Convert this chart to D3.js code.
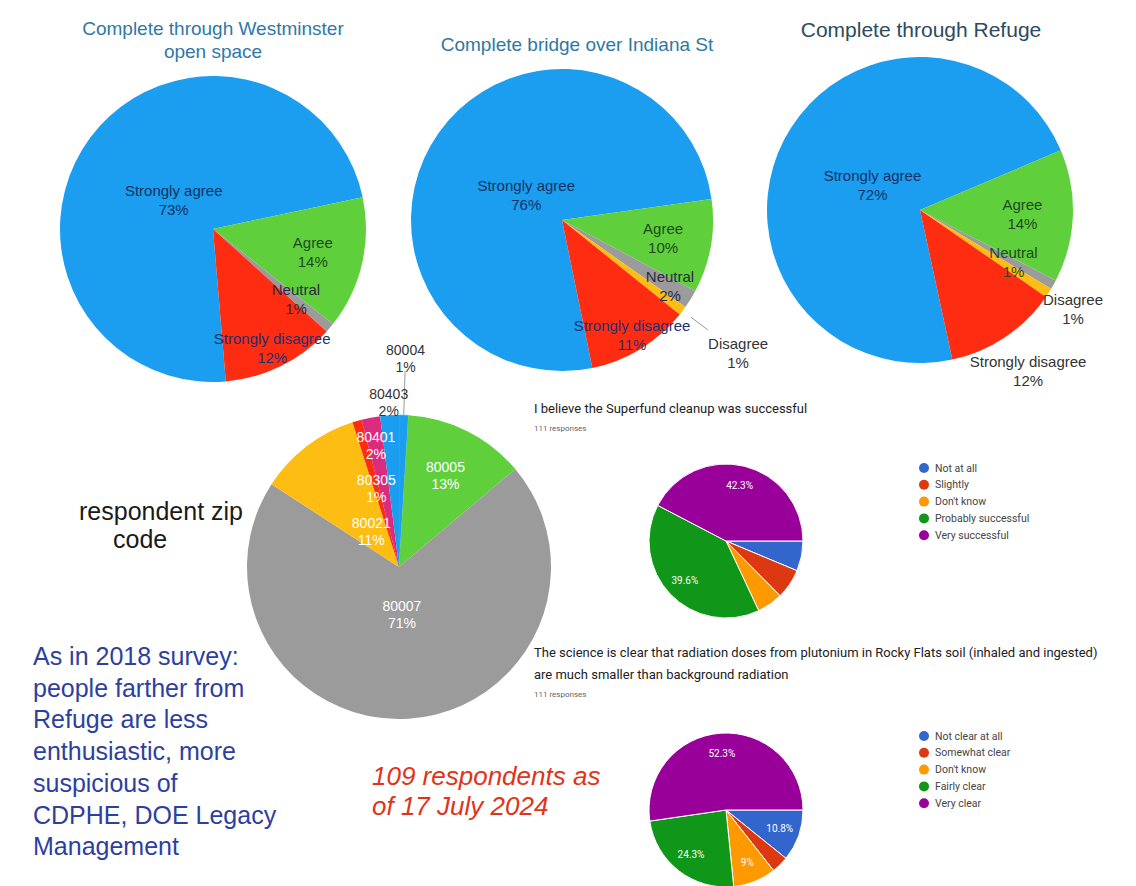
<!DOCTYPE html>
<html><head><meta charset="utf-8">
<script src="https://cdn.jsdelivr.net/npm/d3@7"></script>
<style>body{margin:0;background:#fff}svg{display:block}</style>
</head><body><svg id="c" width="1136" height="886"></svg>
<script>
// ---------- DATA ----------
const agreeCategories = ["Strongly agree", "Agree", "Neutral", "Disagree", "Strongly disagree"];
const westminsterValues = [73, 14, 1, 0, 12];
const indianaValues = [76, 10, 2, 1, 11];
const refugeValues = [72, 14, 1, 1, 12];
const pieTitles = [["Complete through Westminster", "open space"], ["Complete bridge over Indiana St"], ["Complete through Refuge"]];

const zipCodes = ["80004", "80005", "80007", "80021", "80305", "80401", "80403"];
const zipValues = [1, 13, 71, 11, 1, 2, 2];

const superfundTitle = ["I believe the Superfund cleanup was successful"];
const superfundCategories = ["Not at all", "Slightly", "Don't know", "Probably successful", "Very successful"];
const superfundValues = [6.3, 6.3, 5.4, 39.6, 42.3];

const scienceTitle = ["The science is clear that radiation doses from plutonium in Rocky Flats soil (inhaled and ingested)", "are much smaller than background radiation"];
const scienceCategories = ["Not clear at all", "Somewhat clear", "Don't know", "Fairly clear", "Very clear"];
const scienceValues = [10.8, 3.6, 9, 24.3, 52.3];
const responsesText = "111 responses";

const notesText = ["As in 2018 survey:", "people farther from", "Refuge are less", "enthusiastic, more", "suspicious of", "CDPHE, DOE Legacy", "Management"];
const respondentsText = ["109 respondents as", "of 17 July 2024"];
const zipCaption = ["respondent zip", "code"];

// ---------- DRAW ----------
const svg = d3.select("#c");
const keyFont = "'Liberation Sans', Arial, Helvetica, sans-serif";
const gFont = "Roboto, 'Liberation Sans', Arial, sans-serif";
const agreeColor = d3.scaleOrdinal().domain(agreeCategories)
  .range(["#1b9df0", "#5fd03b", "#9b9b9b", "#fdbd12", "#fe2c10"]);

function keynotePie(cfg) {
  const g = svg.append("g").attr("transform", `translate(${cfg.cx},${cfg.cy})`);
  const items = cfg.values.map((v, i) => ({cat: agreeCategories[i], v}));
  const total = d3.sum(cfg.values);
  const rot = cfg.agreeStart * Math.PI / 180 - cfg.values[0] / total * 2 * Math.PI;
  const arcs = d3.pie().sort(null).value(d => d.v).startAngle(rot).endAngle(rot + 2 * Math.PI)(items);
  const arc = d3.arc().innerRadius(0).outerRadius(cfg.r);
  g.selectAll("path").data(arcs.filter(a => a.data.v > 0)).join("path")
    .attr("d", arc).attr("fill", d => agreeColor(d.data.cat));
  const t = svg.append("text").attr("x", cfg.tx).attr("text-anchor", "middle")
    .attr("font-family", keyFont).attr("font-size", cfg.tsize).attr("fill", cfg.tcolor);
  cfg.title.forEach((line, i) => t.append("tspan").attr("x", cfg.tx).attr("y", cfg.ty + i * 23).text(line));
  arcs.forEach(a => {
    const L = cfg.leader && cfg.leader[a.data.cat];
    if (!L || a.data.v <= 0) return;
    const m = (a.startAngle + a.endAngle) / 2;
    g.append("line")
      .attr("x1", L[0] * cfg.r * Math.sin(m)).attr("y1", -L[0] * cfg.r * Math.cos(m))
      .attr("x2", L[1] * cfg.r * Math.sin(m)).attr("y2", -L[1] * cfg.r * Math.cos(m))
      .attr("stroke", "#9a9a9a").attr("stroke-width", 1);
  });
  arcs.forEach(a => {
    if (a.data.v <= 0) return;
    const m = (a.startAngle + a.endAngle) / 2;
    const rr = cfg.labelR[a.data.cat] * cfg.r;
    const x = rr * Math.sin(m), y = -rr * Math.cos(m);
    const lt = g.append("text").attr("text-anchor", "middle").attr("font-family", keyFont)
      .attr("font-size", 15).attr("fill", cfg.labelColor[a.data.cat]);
    lt.append("tspan").attr("x", x).attr("y", y - 4).text(a.data.cat);
    lt.append("tspan").attr("x", x).attr("y", y + 15).text(a.data.v + "%");
  });
}

const inBlue = "#17315f", inGreen = "#1d4a1f", inDark = "#2a2a44", inRed = "#1e3170", outC = "#333333";

keynotePie({cx: 213, cy: 229, r: 153, agreeStart: 78, values: westminsterValues,
  title: pieTitles[0], tx: 213, ty: 35, tsize: 19, tcolor: "#2f78a8",
  labelR: {"Strongly agree": 0.32, "Agree": 0.67, "Neutral": 0.71, "Disagree": 1.2, "Strongly disagree": 0.87},
  labelColor: {"Strongly agree": inBlue, "Agree": inGreen, "Neutral": inDark, "Disagree": outC, "Strongly disagree": inRed}});

keynotePie({cx: 562, cy: 220, r: 151, agreeStart: 82, values: indianaValues,
  title: pieTitles[1], tx: 577, ty: 51, tsize: 19, tcolor: "#2f78a3",
  labelR: {"Strongly agree": 0.29, "Agree": 0.68, "Neutral": 0.84, "Disagree": 1.46, "Strongly disagree": 0.89},
  leader: {"Disagree": [1.07, 1.21]},
  labelColor: {"Strongly agree": inBlue, "Agree": inGreen, "Neutral": inDark, "Disagree": outC, "Strongly disagree": inRed}});

keynotePie({cx: 920, cy: 210, r: 153, agreeStart: 67, values: refugeValues,
  title: pieTitles[2], tx: 921, ty: 37, tsize: 21, tcolor: "#2e4a60",
  labelR: {"Strongly agree": 0.35, "Agree": 0.67, "Neutral": 0.70, "Disagree": 1.19, "Strongly disagree": 1.27},
  labelColor: {"Strongly agree": inBlue, "Agree": inGreen, "Neutral": inGreen, "Disagree": outC, "Strongly disagree": outC}});

// ---------- ZIP PIE ----------
(function () {
  const cx = 399, cy = 567, r = 152;
  const zipColor = d3.scaleOrdinal().domain(zipCodes)
    .range(["#1b9df0", "#5fd03b", "#9b9b9b", "#fdbd12", "#fe2c10", "#dc2a7c", "#1b9df0"]);
  const labelR = {"80004": 1.375, "80005": 0.68, "80007": 0.31, "80021": 0.30, "80305": 0.54, "80401": 0.82, "80403": 1.09};
  const outside = {"80004": true, "80403": true};
  const g = svg.append("g").attr("transform", `translate(${cx},${cy})`);
  const items = zipValues.map((v, i) => ({cat: zipCodes[i], v}));
  const arcs = d3.pie().sort(null).value(d => d.v)(items);
  const arc = d3.arc().innerRadius(0).outerRadius(r);
  g.selectAll("path").data(arcs).join("path").attr("d", arc)
    .attr("fill", d => zipColor(d.data.cat))
    .attr("stroke", d => d.data.cat === "80004" ? "#4fb4f4" : "none").attr("stroke-width", 0.6);
  const a4 = arcs[0], m4 = (a4.startAngle + a4.endAngle) / 2;
  g.append("line").attr("x1", r * Math.sin(m4)).attr("y1", -r * Math.cos(m4))
    .attr("x2", 1.29 * r * Math.sin(m4)).attr("y2", -1.29 * r * Math.cos(m4))
    .attr("stroke", "#9a9a9a").attr("stroke-width", 1);
  arcs.forEach(a => {
    const m = (a.startAngle + a.endAngle) / 2;
    const rr = labelR[a.data.cat] * r;
    const x = rr * Math.sin(m), y = -rr * Math.cos(m);
    const lt = g.append("text").attr("text-anchor", "middle").attr("font-family", keyFont)
      .attr("font-size", 14).attr("fill", outside[a.data.cat] ? "#333" : "#fff");
    lt.append("tspan").attr("x", x).attr("y", y - 3).text(a.data.cat);
    lt.append("tspan").attr("x", x).attr("y", y + 14).text(a.data.v + "%");
  });
  const c = svg.append("text").attr("font-family", keyFont).attr("font-size", 25).attr("fill", "#1a1a1a");
  c.append("tspan").attr("x", 79).attr("y", 520).text(zipCaption[0]);
  c.append("tspan").attr("x", 113).attr("y", 548).text(zipCaption[1]);
})();

// ---------- GOOGLE FORM PIES ----------
const gColors = ["#3366cc", "#dc3912", "#ff9900", "#109618", "#990099"];
function formPie(cfg) {
  const color = d3.scaleOrdinal().domain(cfg.cats).range(gColors);
  const t = svg.append("text").attr("font-family", gFont).attr("font-size", 13).attr("fill", "#202124");
  cfg.title.forEach((line, i) => t.append("tspan").attr("x", 534).attr("y", cfg.ty + i * 22).text(line));
  svg.append("text").attr("x", 534).attr("y", cfg.ty + (cfg.title.length - 1) * 22 + 18)
    .attr("font-family", gFont).attr("font-size", 8).attr("fill", "#5f6368").text(responsesText);
  const g = svg.append("g").attr("transform", `translate(${cfg.cx},${cfg.cy})`);
  const items = cfg.values.map((v, i) => ({cat: cfg.cats[i], v}));
  const arcs = d3.pie().sort(null).value(d => d.v).startAngle(Math.PI / 2).endAngle(Math.PI / 2 + 2 * Math.PI)(items);
  const arc = d3.arc().innerRadius(0).outerRadius(cfg.r);
  g.selectAll("path").data(arcs).join("path").attr("d", arc)
    .attr("fill", d => color(d.data.cat)).attr("stroke", "#fff").attr("stroke-width", 1);
  const la = d3.arc().innerRadius(cfg.r * 0.74).outerRadius(cfg.r * 0.74);
  g.selectAll("text.pl").data(arcs.filter(a => a.data.v >= 8)).join("text")
    .attr("class", "pl").attr("transform", d => `translate(${la.centroid(d)})`)
    .attr("text-anchor", "middle").attr("dy", "0.35em")
    .attr("font-family", gFont).attr("font-size", 10).attr("fill", "#fff")
    .text(d => d.data.v + "%");
  const lg = svg.append("g");
  cfg.cats.forEach((c, i) => {
    const y = cfg.ly + i * 16.8;
    lg.append("circle").attr("cx", 924).attr("cy", y).attr("r", 5).attr("fill", color(c));
    lg.append("text").attr("x", 935).attr("y", y + 3.6).attr("font-family", gFont)
      .attr("font-size", 10.5).attr("fill", "#444").text(c);
  });
}
formPie({title: superfundTitle, ty: 413, cx: 726, cy: 541, r: 77, cats: superfundCategories, values: superfundValues, ly: 468});
formPie({title: scienceTitle, ty: 657, cx: 726, cy: 810, r: 77, cats: scienceCategories, values: scienceValues, ly: 736});

// ---------- TEXT NOTES ----------
const nt = svg.append("text").attr("font-family", keyFont).attr("font-size", 25).attr("fill", "#2d3f9f");
notesText.forEach((line, i) => nt.append("tspan").attr("x", 33).attr("y", 665 + i * 31.7).text(line));
const rt = svg.append("text").attr("font-family", keyFont).attr("font-size", 26)
  .attr("font-style", "italic").attr("fill", "#e0341a");
respondentsText.forEach((line, i) => rt.append("tspan").attr("x", 372).attr("y", 785 + i * 30).text(line));
</script></body></html>
